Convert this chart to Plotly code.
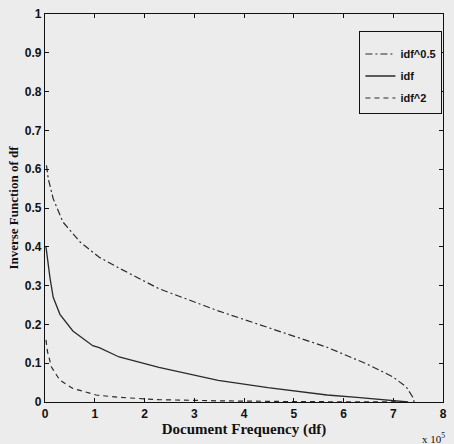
import plotly.graph_objects as go

# Document frequency (raw counts) and values
df_idf = [2000, 5000, 10000, 16500, 30000, 56000, 96000, 109000, 149000, 229000,
          348000, 448000, 468000, 567000, 627000, 687000, 730000]
val_idf = [0.40, 0.37, 0.32, 0.27, 0.226, 0.183, 0.145, 0.140, 0.116, 0.089,
           0.056, 0.037, 0.034, 0.018, 0.012, 0.005, 0.0]

df_sqrt = [3000, 6600, 16500, 36000, 70000, 109000, 149000, 229000, 348000,
           448000, 567000, 647000, 699000, 726000, 739000, 742000]
val_sqrt = [0.61, 0.575, 0.524, 0.464, 0.413, 0.373, 0.345, 0.292, 0.235,
            0.192, 0.141, 0.098, 0.065, 0.039, 0.013, 0.0]

df_sq = [2000, 5000, 13000, 30000, 56000, 103000, 149000, 229000, 350000,
         500000, 730000]
val_sq = [0.16, 0.13, 0.09, 0.056, 0.035, 0.018, 0.012, 0.006, 0.003, 0.001, 0.0]

x_ticks = [0, 100000, 200000, 300000, 400000, 500000, 600000, 700000, 800000]
x_ticktext = ["0", "1", "2", "3", "4", "5", "6", "7", "8"]
y_ticks = [0, 0.1, 0.2, 0.3, 0.4, 0.5, 0.6, 0.7, 0.8, 0.9, 1.0]
y_ticktext = ["0", "0.1", "0.2", "0.3", "0.4", "0.5", "0.6", "0.7", "0.8", "0.9", "1"]

BG = "#ececec"
INK = "#2a2a2a"

fig = go.Figure()
fig.add_trace(go.Scatter(x=df_sqrt, y=val_sqrt, mode="lines", name="idf^0.5",
                         legendgroup="a",
                         line=dict(color=INK, width=1.2, dash="7px,3px,2px,3px")))
fig.add_trace(go.Scatter(x=df_idf, y=val_idf, mode="lines", name="idf",
                         legendgroup="b",
                         line=dict(color=INK, width=1.3)))
fig.add_trace(go.Scatter(x=df_sq, y=val_sq, mode="lines", name="idf^2",
                         legendgroup="c",
                         line=dict(color=INK, width=1.2, dash="5px,4px")))

axis_common = dict(showgrid=False, zeroline=False, showline=True, linecolor="#111",
                   linewidth=1.3, mirror="ticks", ticks="inside", ticklen=4,
                   tickcolor="#111", tickwidth=1,
                   tickfont=dict(family="Liberation Sans", size=12, color="#111",
                                 weight="bold"))

fig.update_xaxes(range=[0, 800000], tickvals=x_ticks, ticktext=x_ticktext,
                 title=dict(text="Document Frequency (df)", standoff=2,
                            font=dict(family="Liberation Serif", size=15,
                                      color="#111", weight="bold")),
                 **axis_common)
fig.update_yaxes(range=[0, 1], tickvals=y_ticks, ticktext=y_ticktext,
                 title=dict(text="Inverse Function of df", standoff=3,
                            font=dict(family="Liberation Serif", size=13,
                                      color="#111", weight="bold")),
                 **axis_common)

fig.add_annotation(text="x 10<sup>5</sup>", xref="paper", yref="paper",
                   x=1.01, y=-0.07, xanchor="right", yanchor="top",
                   showarrow=False,
                   font=dict(family="Liberation Serif", size=11, color="#111"))

fig.update_layout(
    width=454, height=444,
    margin=dict(l=45, r=7, t=10, b=42),
    paper_bgcolor=BG, plot_bgcolor=BG,
    showlegend=True,
    legend=dict(x=0.79, y=0.957, xanchor="left", yanchor="top",
                bgcolor=BG, bordercolor="#111", borderwidth=1,
                title=dict(text=" ", font=dict(size=6)),
                font=dict(family="Liberation Sans", size=11, color="#111",
                          weight="bold"),
                itemwidth=30, tracegroupgap=3),
)

fig.write_html("out.html")
